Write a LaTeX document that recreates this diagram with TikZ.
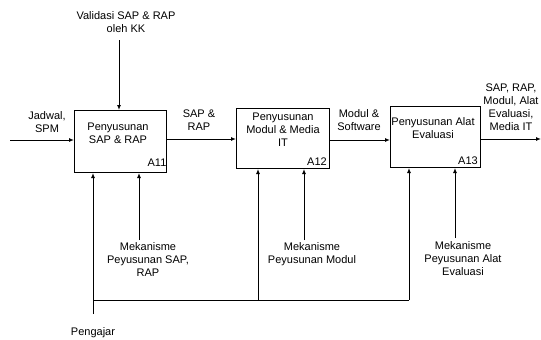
\documentclass[tikz,border=0pt]{standalone}
\usepackage{fontspec}
\setmainfont{Liberation Sans}
\usetikzlibrary{arrows.meta}

\begin{document}
\begin{tikzpicture}[x=1pt,y=-1pt,
  box/.style={draw, line width=1pt, anchor=north west, inner sep=0pt},
  lbl/.style={align=center, font=\fontsize{11}{13}\selectfont, inner sep=0pt},
  flow/.style={line width=1pt, -{Latex[length=5pt,width=4pt]}},
  bus/.style={line width=1pt}]
\useasboundingbox (0,0) rectangle (541,340);

% activity boxes
\node[box, minimum width=92pt, minimum height=62pt] (a11) at (74,110) {};
\node[box, minimum width=93pt, minimum height=60pt] (a12) at (236,108) {};
\node[box, minimum width=90pt, minimum height=61pt] (a13) at (390,106) {};

\node[lbl] (t11) at (118,133) {Penyusunan\\SAP \& RAP};
\node[lbl] (n11) at (157,163) {A11};
\node[lbl] (t12) at (283,130) {Penyusunan\\Modul \& Media\\IT};
\node[lbl] (n12) at (317,162) {A12};
\node[lbl] (t13) at (433,128) {Penyusunan Alat\\Evaluasi};
\node[lbl] (n13) at (468,161) {A13};

% input, control, output
\coordinate (in) at (10,140);
\node[lbl] (jadwal) at (47,122) {Jadwal,\\SPM};
\draw[flow] (in) -- (in -| a11.west);

\coordinate (ctl) at (119,40);
\node[lbl] (valid) at (126,22) {Validasi SAP \& RAP\\oleh KK};
\draw[flow] (ctl) -- (ctl |- a11.north);

\node[lbl] (sap) at (199,120) {SAP \&\\RAP};
\draw[flow] (a11.east |- 0,139) -- (a12.west |- 0,139);

\node[lbl] (modul) at (359,120) {Modul \&\\Software};
\draw[flow] (a12.east |- 0,140) -- (a13.west |- 0,140);

\coordinate (out) at (541,139);
\node[lbl] (hasil) at (511,107) {SAP, RAP,\\Modul, Alat\\Evaluasi,\\Media IT};
\draw[flow] (a13.east |- out) -- (out);

% mechanisms
\coordinate (m11) at (139,240);
\node[lbl] (mek11) at (148,260) {Mekanisme\\Peyusunan SAP,\\RAP};
\draw[flow] (m11) -- (m11 |- a11.south);

\coordinate (m12) at (304,240);
\node[lbl] (mek12) at (312,254) {Mekanisme\\Peyusunan Modul};
\draw[flow] (m12) -- (m12 |- a12.south);

\coordinate (m13) at (455,238);
\node[lbl] (mek13) at (463,259) {Mekanisme\\Peyusunan Alat\\Evaluasi};
\draw[flow] (m13) -- (m13 |- a13.south);

% pengajar
\coordinate (p0) at (93,314);
\coordinate (p1) at (93,300);
\coordinate (p2) at (258,300);
\coordinate (p3) at (409,300);
\node[lbl] (pengajar) at (93,333) {Pengajar};
\draw[flow] (p0) -- (p0 |- a11.south);
\draw[bus] (p1) -- (p3);
\draw[flow] (p2) -- (p2 |- a12.south);
\draw[flow] (p3) -- (p3 |- a13.south);

\end{tikzpicture}
\end{document}
